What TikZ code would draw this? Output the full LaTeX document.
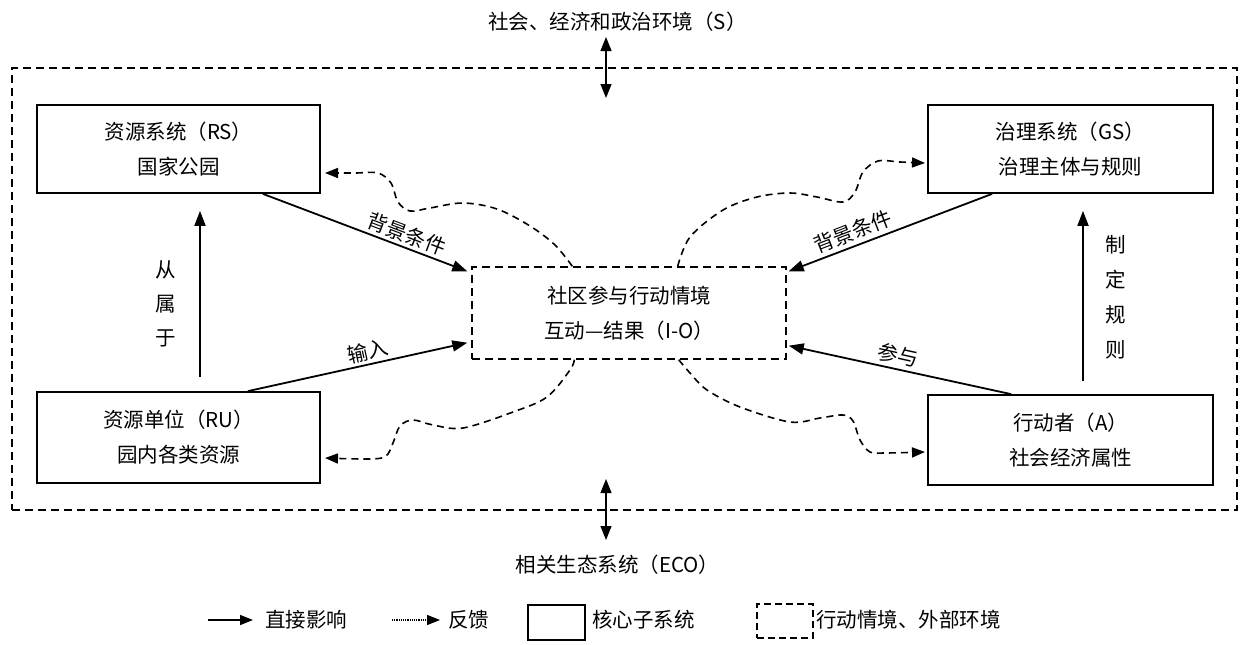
\documentclass[tikz,border=0pt]{standalone}
\usepackage{fontspec}
\setmainfont{Noto Sans CJK SC}
\usetikzlibrary{arrows.meta}
\begin{document}
\begin{tikzpicture}[x=1pt,y=-1pt,
  every node/.style={font=\fontsize{20.5}{35}\selectfont, inner sep=2pt},
  core/.style={draw, line width=1.7pt, align=center, inner sep=0pt},
  ctx/.style={draw, line width=1.4pt, dash pattern=on 8pt off 5pt, align=center, inner sep=0pt},
  direct/.style={line width=1.8pt, -{Triangle[length=15pt,width=11pt]}},
  fb/.style={line width=1.6pt, dash pattern=on 7pt off 5pt, -{Triangle[length=13pt,width=10pt]}},
  dbl/.style={line width=1.2pt, {Triangle[length=14pt,width=11pt]}-{Triangle[length=14pt,width=11pt]}},
  lbl/.style={sloped, above, inner sep=3pt},
  vlbl/.style={align=center, font=\fontsize{20.5}{34}\selectfont}
]
\useasboundingbox (0,0) rectangle (1245,645);

% outer environment
\node[ctx, minimum width=1225pt, minimum height=442pt] (outer) at (624.5,289) {};
\node (senv) at (617.5,22) {社会、经济和政治环境（S）};
\node (eco) at (617.5,565) {相关生态系统（ECO）};
\coordinate (t1) at (606,37);
\coordinate (t2) at (606,98);
\coordinate (b1) at (606,479);
\coordinate (b2) at (606,540);
\draw[dbl] (t1) -- (t2);
\draw[dbl] (b1) -- (b2);

% core subsystems
\node[core, minimum width=283pt, minimum height=88pt] (rs) at (178.5,149) {资源系统（RS）\\国家公园};
\node[core, minimum width=285pt, minimum height=88pt] (gs) at (1070.5,149) {治理系统（GS）\\治理主体与规则};
\node[core, minimum width=283pt, minimum height=91pt] (ru) at (178.5,437.5) {资源单位（RU）\\园内各类资源};
\node[core, minimum width=285pt, minimum height=90pt] (a) at (1070.5,440) {行动者（A）\\社会经济属性};

% action situation
\node[ctx, minimum width=314pt, minimum height=92pt] (io) at (629,313) {社区参与行动情境\\互动—结果（I-O）};

% direct influences
\draw[direct] ([shift={(-58,0)}]rs.south east) -- ([shift={(-4,5)}]io.north west)
  node[lbl, pos=0.68] {背景条件};
\draw[direct] ([shift={(65,0)}]gs.south west) -- ([shift={(2,5)}]io.north east)
  node[pos=0.66, rotate=21, anchor=south, inner sep=4pt] {背景条件};
\draw[direct] ([shift={(-73,0)}]ru.north east) -- ([shift={(-4,-17)}]io.south west)
  node[lbl, pos=0.56] {输入};
\draw[direct] ([shift={(84,0)}]a.north west) -- ([shift={(2,-14)}]io.south east)
  node[pos=0.52, rotate=-12.6, anchor=south, inner sep=4pt] {参与};
\draw[direct] ([shift={(21.5,-14)}]ru.north) -- ([shift={(21.5,17)}]rs.south);
\draw[direct] ([shift={(12.5,-13)}]a.north) -- ([shift={(12.5,17)}]gs.south);
\node[vlbl] (l1) at (166,304) {从\\属\\于};
\node[vlbl, font=\fontsize{20.5}{35}\selectfont] (l2) at (1116,297) {制\\定\\规\\则};

% feedback
\draw[fb] plot[smooth, tension=0.55] coordinates {([shift={(101,0)}]io.north west) (555,245) (530,226) (497,209) (463,203) (430,208) (410,211) (398,202) (391,183) (378,173) (355,173) (325,173)};
\draw[fb] plot[smooth, tension=0.55] coordinates {([shift={(-109,0)}]io.north east) (690,237) (723,210) (757,197) (790,193) (817,197) (843,202) (855,192) (863,172) (878,161) (900,162) (925,163)};
\draw[fb] plot[smooth, tension=0.55] coordinates {([shift={(103,0)}]io.south west) (570,370) (547,397) (513,412) (463,428) (433,425) (413,420) (400,426) (393,443) (386,456) (370,459) (325,458)};
\draw[fb] plot[smooth, tension=0.55] coordinates {([shift={(-108,0)}]io.south east) (690,373) (707,390) (740,407) (790,422) (820,418) (843,415) (853,421) (860,440) (870,452) (885,453) (925,452)};

% legend
\coordinate (la1) at (208,620);
\coordinate (la2) at (253,620);
\draw[line width=1.5pt, -{Triangle[length=13pt,width=10pt]}] (la1) -- (la2);
\node[anchor=west, inner sep=0pt] (lt1) at (265,620) {直接影响};
\coordinate (lb1) at (392,620);
\coordinate (lb2) at (440,620);
\draw[line width=1.2pt, densely dotted, -{Triangle[length=13pt,width=10pt]}] (lb1) -- (lb2);
\node[anchor=west, inner sep=0pt] (lt2) at (448,620) {反馈};
\node[draw, line width=1.7pt, minimum width=57pt, minimum height=35pt, inner sep=0pt] (lbox1) at (556.5,622.5) {};
\node[anchor=west, inner sep=0pt] (lt3) at (592,620) {核心子系统};
\node[draw, line width=1.4pt, dash pattern=on 7pt off 4pt, minimum width=56pt, minimum height=34pt, inner sep=0pt] (lbox2) at (785,621) {};
\node[anchor=west, inner sep=0pt] (lt4) at (816,620) {行动情境、外部环境};
\end{tikzpicture}
\end{document}
